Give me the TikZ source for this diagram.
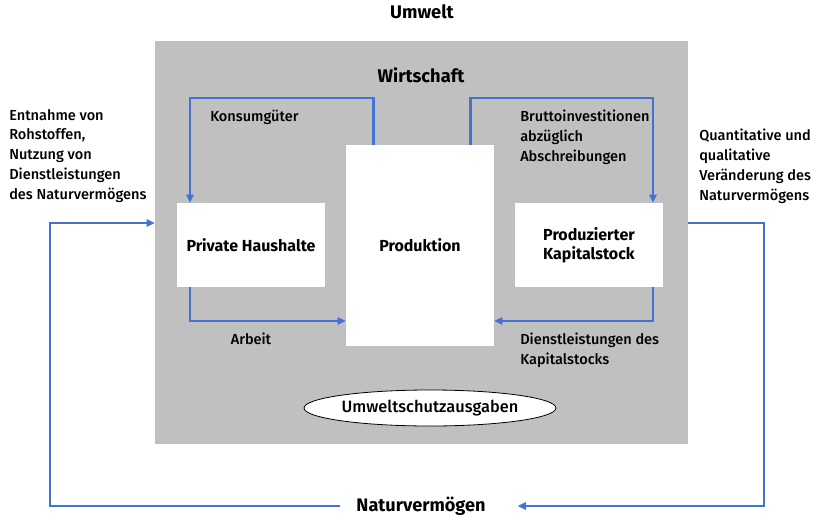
\documentclass[tikz,border=0pt]{standalone}
\usepackage{fontspec}
\setmainfont{Fira Sans}
\newfontfamily\medf{Fira Sans Medium}
\usetikzlibrary{arrows.meta,fit,shapes.geometric}
\definecolor{bgray}{RGB}{192,192,192}
\definecolor{lblue}{RGB}{68,114,210}
\tikzset{
  arr/.style={draw=lblue, line width=2pt, -{Triangle[length=6pt,width=5.5pt]}},
  box/.style={fill=white, inner sep=0pt, font=\bfseries\fontsize{12}{14.5}\selectfont, align=center},
  lbl/.style={font=\medf\fontsize{10.9}{14.8}\selectfont, align=left, inner sep=0pt},
  title/.style={font=\bfseries\fontsize{13.7}{16}\selectfont, inner sep=0pt}
}
\begin{document}
\begin{tikzpicture}[x=0.75pt,y=-0.75pt]
\useasboundingbox (0,0) rectangle (826,522);
% economy area
\node[fit={(155,41) (688,444)}, inner sep=0pt, fill=bgray] (econ) {};
\node[title] (umwelt) at (422,12) {Umwelt};
\node[title] (wirt) at (421,75) {Wirtschaft};
\node[title, font=\bfseries\fontsize{13.6}{16}\selectfont, inner xsep=12pt] (natur) at (421,506) {Naturvermögen};
% boxes
\node[box, minimum width={148*0.75pt}, minimum height={84*0.75pt}] (ph) at (251,245) {Private Haushalte};
\node[box, minimum width={148*0.75pt}, minimum height={201*0.75pt}] (prod) at (420,245.5) {Produktion};
\node[box, minimum width={148*0.75pt}, minimum height={84*0.75pt}] (pk) at (589,245) {Produzierter\\Kapitalstock};
\node[ellipse, draw=black, line width=0.6pt, fill=white, minimum width={252*0.75pt}, minimum height={36*0.75pt}, inner sep=0pt, font=\medf\fontsize{12.3}{14}\selectfont] (ums) at (430,408) {Umweltschutzausgaben};
% labels
\node[lbl, anchor=west] (konsl) at (210,117) {Konsumgüter};
\node[lbl, anchor=north west] (bruttol) at (520,110) {Bruttoinvestitionen\\abzüglich\\Abschreibungen};
\node[lbl] (arbl) at (251,339) {Arbeit};
\node[lbl, anchor=north west] (dienstl) at (520,333) {Dienstleistungen des\\Kapitalstocks};
\node[lbl, anchor=north west] (entl) at (9,109) {Entnahme von\\Rohstoffen,\\Nutzung von\\Dienstleistungen\\des Naturvermögens};
\node[lbl, anchor=north west] (quantl) at (699,129) {Quantitative und\\qualitative\\Veränderung des\\Naturvermögens};
% helper coordinates
\coordinate (k1) at (190,98);
\coordinate (b1) at (653,98);
\coordinate (a1) at (190,321);
\coordinate (d1) at (653,321);
\coordinate (l1) at (50,223);
\coordinate (r1) at (764,223);
% connectors
\draw[arr] (prod.north west) ++(28,0) |- (k1) -- (k1 |- ph.north);
\draw[arr] (prod.north east) ++(-24,0) |- (b1) -- (b1 |- pk.north);
\draw[arr] (a1 |- ph.south) -- (a1) -- (a1 -| prod.west);
\draw[arr] (d1 |- pk.south) -- (d1) -- (d1 -| prod.east);
\draw[arr] (natur.west) -| (l1) -- (l1 -| econ.west);
\draw[arr] (r1 -| econ.east) -- (r1) |- ([xshift=12pt]natur.east);
\end{tikzpicture}
\end{document}
